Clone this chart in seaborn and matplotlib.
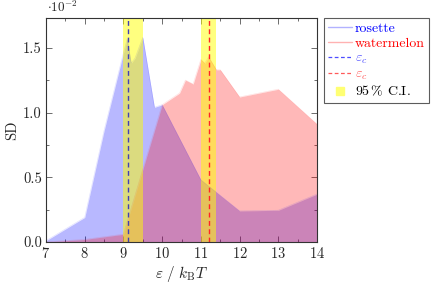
import numpy as np
import pandas as pd
import seaborn as sns
import matplotlib
matplotlib.use("Agg")
import matplotlib.pyplot as plt
from matplotlib.lines import Line2D
from matplotlib.ticker import MultipleLocator, FormatStrFormatter

# ---- data (SD in units of 1e-2) ----
rosette_x = [7, 8, 8.5, 9.0, 9.1, 9.2, 9.3, 9.4, 9.5, 9.8, 10.0, 11.0, 12.0, 13.0, 14.0]
rosette_y = [0.01, 0.19, 0.86, 1.46, 1.57, 1.38, 1.42, 1.50, 1.58, 1.04, 1.06, 0.48, 0.24, 0.245, 0.37]

water_x = [7, 8, 9.0, 10.0, 10.45, 10.6, 10.8, 11.0, 11.1, 11.2, 11.4, 11.5, 12.0, 13.0, 14.0]
water_y = [0.0, 0.02, 0.06, 1.06, 1.15, 1.25, 1.22, 1.41, 1.38, 1.43, 1.33, 1.33, 1.12, 1.18, 0.91]

eps_c = {"rosette": 9.11, "watermelon": 11.2}
ci = {"rosette": (9.0, 9.5), "watermelon": (11.0, 11.39)}

xticks = [7, 8, 9, 10, 11, 12, 13, 14]
yticks = [0.0, 0.5, 1.0, 1.5]

sns.set_style("ticks")
plt.rcParams["font.family"] = ["serif"]
plt.rcParams["font.serif"] = ["cmr10", "DejaVu Serif"]
plt.rcParams["mathtext.fontset"] = "cm"
plt.rcParams["axes.formatter.use_mathtext"] = True
plt.rcParams["font.size"] = 10

fig = plt.figure(figsize=(4.33, 2.84), dpi=100)
ax = fig.add_axes([46 / 433, 1 - 242 / 284, (317 - 46) / 433, (242 - 18) / 284])

df_r = pd.DataFrame({"x": rosette_x, "y": rosette_y})
df_w = pd.DataFrame({"x": water_x, "y": water_y})

blue = (0, 0, 1)
red = (1, 0, 0)

ax.fill_between(df_r["x"], 0, df_r["y"], color=blue, alpha=0.28, linewidth=0)
sns.lineplot(data=df_r, x="x", y="y", ax=ax, color=blue, alpha=0.12, lw=0.5, legend=False)
ax.fill_between(df_w["x"], 0, df_w["y"], color=red, alpha=0.28, linewidth=0)
sns.lineplot(data=df_w, x="x", y="y", ax=ax, color=red, alpha=0.12, lw=0.5, legend=False)

for key, col in (("rosette", (0.25, 0.25, 0.7)), ("watermelon", (1, 0.15, 0.15))):
    lo, hi = ci[key]
    ax.axvspan(lo, hi, color=(1, 1, 0), alpha=0.5, lw=0)
    ax.axvline(eps_c[key], color=col, ls=(0, (3.5, 2.5)), lw=1.0)

ax.set_xlim(7, 14)
ax.set_ylim(0, 1.73)
ax.set_xticks(xticks)
ax.set_yticks(yticks)
ax.yaxis.set_major_formatter(FormatStrFormatter("%.1f"))
ax.xaxis.set_minor_locator(MultipleLocator(0.5))
ax.yaxis.set_minor_locator(MultipleLocator(0.25))
ax.tick_params(which="both", direction="in", top=True, right=True, width=0.6, color="#555555")
ax.tick_params(which="major", length=4, labelsize=10.5, pad=3)
ax.tick_params(which="minor", length=2)
for s in ax.spines.values():
    s.set_linewidth(0.8)
    s.set_color("#333333")

ax.set_xlabel(r"$\varepsilon\ /\ k_{\mathrm{B}}T$", fontsize=11, labelpad=2)
ax.set_ylabel("SD", fontsize=10.5, labelpad=3)
ax.text(0.005, 1.012, r"$\cdot10^{-2}$", transform=ax.transAxes, fontsize=9.5, ha="left", va="bottom")

handles = [
    Line2D([], [], color=blue, alpha=0.3, lw=1),
    Line2D([], [], color=red, alpha=0.3, lw=1),
    Line2D([], [], color=(0.3, 0.3, 1), ls=(0, (3, 2)), lw=0.9),
    Line2D([], [], color=(1, 0.35, 0.35), ls=(0, (3, 2)), lw=0.9),
    Line2D([], [], color=(1, 1, 0.45), marker="s", ls="none", markersize=6),
]
labels = ["rosette", "watermelon", r"$\varepsilon_c$", r"$\varepsilon_c$", r"95$\,$% C.I."]
leg = ax.legend(handles, labels, loc="upper left", bbox_to_anchor=(1.025, 1.0),
                frameon=True, fancybox=False, edgecolor="#333333", fontsize=10,
                handlelength=1.75, handletextpad=0.2, borderpad=0.3, labelspacing=0.15,
                borderaxespad=0)
leg.get_frame().set_linewidth(0.8)
for t, c in zip(leg.get_texts(), [blue, red, (0.3, 0.3, 1), (1, 0.35, 0.35), "black"]):
    t.set_color(c)

fig.savefig("out.png", dpi=100)
